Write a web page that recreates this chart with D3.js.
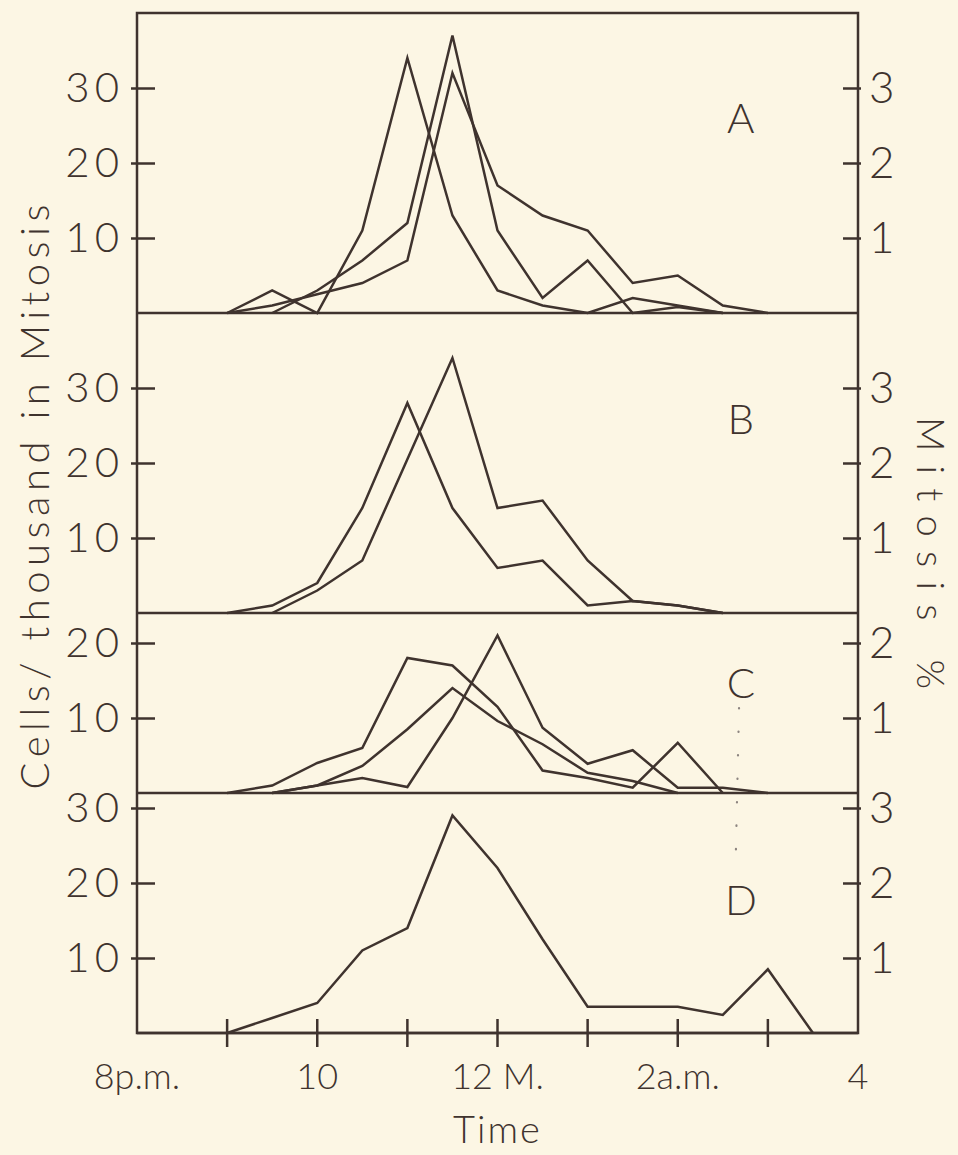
<!DOCTYPE html>
<html lang="en">
<head>
<meta charset="utf-8">
<title>Cells in mitosis by time</title>
<script src="https://cdnjs.cloudflare.com/ajax/libs/d3/7.8.5/d3.min.js"></script>
<style>
  body { margin: 0; background: #fcf6e4; }
  svg text { font-family: Lato, "DejaVu Sans", sans-serif; font-weight: 300; fill: #3f332e; }
</style>
</head>
<body>
<script>
// hours after 8 p.m., one sample every half hour from 9 p.m.
var hours = [1, 1.5, 2, 2.5, 3, 3.5, 4, 4.5, 5, 5.5, 6, 6.5, 7, 7.5];

// cells per thousand in mitosis
var seriesA1 = [0, 3, 0, 11, 34, 13, 3, 1, 0, 2, 1, 0, null, null];
var seriesA2 = [null, 0, 3, 7, 12, 37, 11, 2, 7, 0, 0.8, 0, null, null];
var seriesA3 = [0, 1, 2.5, 4, 7, 32, 17, 13, 11, 4, 5, 1, 0, null];
var seriesB1 = [0, 1, 4, 14, 28, 14, 6, 7, 1, 1.6, 1, 0, null, null];
var seriesB2 = [null, 0, 3, 7, 20.5, 34, 14, 15, 7, 1.6, 1, 0, null, null];
var seriesC1 = [0, 1, 4, 6, 18, 17, 11.5, 3, 2, 0.7, 6.7, 0, null, null];
var seriesC2 = [null, 0, 1, 3.6, 8.5, 14, 9.6, 6.5, 2.7, 1.6, 0, null, null, null];
var seriesC3 = [null, 0, 1, 2, 0.8, 10, 21, 8.7, 3.9, 5.7, 0.7, 0.7, 0, null];
var seriesD1 = [0, 2, 4, 11, 14, 29, 22, 12.5, 3.5, 3.5, 3.5, 2.4, 8.5, 0];

var panelNames = ["A", "B", "C", "D"];
var panelMax = [40, 40, 24, 32];
var panelSeries = [[seriesA1, seriesA2, seriesA3], [seriesB1, seriesB2], [seriesC1, seriesC2, seriesC3], [seriesD1]];
var leftTicks = [[10, 20, 30], [10, 20, 30], [10, 20], [10, 20, 30]];

var timeTicks = [1, 2, 3, 4, 5, 6, 7];
var timeLabelHours = [0, 2, 4, 6, 8];
var timeLabels = ["8p.m.", "10", "12 M.", "2a.m.", "4"];

var W = 958, H = 1155;
var ink = "#3f332e";
var top0 = 13, unit = 7.5;   // px per cell/thousand, same in every panel

var svg = d3.select("body").append("svg")
    .attr("width", W).attr("height", H);

svg.append("rect").attr("width", W).attr("height", H).attr("fill", "#fcf6e4");

var x = d3.scaleLinear().domain([0, 8]).range([137, 858]);

var line = d3.line()
    .defined(function(d) { return d[1] != null; })
    .x(function(d) { return x(d[0]); });

var yTop = top0;
var bottom = 0;

panelNames.forEach(function(name, p) {
    var h = panelMax[p] * unit;
    var y = d3.scaleLinear().domain([0, panelMax[p]]).range([yTop + h, yTop]);
    var yPct = d3.scaleLinear().domain([0, panelMax[p] / 10]).range([yTop + h, yTop]);
    var g = svg.append("g");

    // left ticks cross the frame
    var la = d3.axisLeft(y).tickValues(leftTicks[p]).tickSize(0).tickPadding(13)
        .tickFormat(d3.format("d"));
    var lg = g.append("g").attr("transform", "translate(" + x(0) + ",0)").call(la);
    lg.select(".domain").remove();
    lg.selectAll(".tick line").remove();
    lg.selectAll(".tick text").attr("font-size", 42).attr("fill", ink)
        .attr("letter-spacing", 5)
        .style("font-family", "Lato, 'DejaVu Sans', sans-serif").style("font-weight", 300);
    lg.selectAll(".tick").append("line")
        .attr("x1", -6).attr("x2", 18).attr("stroke", ink).attr("stroke-width", 2.5);

    var ra = d3.axisRight(yPct).tickValues(leftTicks[p].map(function(v) { return v / 10; }))
        .tickSize(0).tickPadding(11).tickFormat(d3.format("d"));
    var rg = g.append("g").attr("transform", "translate(" + x(8) + ",0)").call(ra);
    rg.select(".domain").remove();
    rg.selectAll(".tick line").remove();
    rg.selectAll(".tick text").attr("font-size", 44).attr("fill", ink)
        .style("font-family", "Lato, 'DejaVu Sans', sans-serif").style("font-weight", 300);
    rg.selectAll(".tick").append("line")
        .attr("x1", -15).attr("x2", 3).attr("stroke", ink).attr("stroke-width", 2.5);

    // panel baseline
    g.append("line")
        .attr("x1", x(0)).attr("x2", x(8))
        .attr("y1", y(0)).attr("y2", y(0))
        .attr("stroke", ink).attr("stroke-width", 2.5);

    panelSeries[p].forEach(function(s) {
        g.append("path")
            .datum(hours.map(function(t, i) { return [t, s[i]]; }))
            .attr("d", line.y(function(d) { return y(d[1]); }))
            .attr("fill", "none")
            .attr("stroke", ink)
            .attr("stroke-width", 2.5)
            .attr("stroke-linejoin", "miter");
    });

    g.append("text")
        .attr("x", x(6.7)).attr("y", yTop + [120, 121, 85, 122][p])
        .attr("text-anchor", "middle")
        .attr("font-size", 42)
        .text(name);

    yTop += h;
    bottom = y(0);
});

// frame
svg.append("rect")
    .attr("x", x(0)).attr("y", top0)
    .attr("width", x(8) - x(0)).attr("height", bottom - top0)
    .attr("fill", "none").attr("stroke", ink).attr("stroke-width", 2.5);

// faint dotted guide between C and D labels
svg.append("line")
    .attr("x1", x(6.68)).attr("x2", x(6.64))
    .attr("y1", 708).attr("y2", 872)
    .attr("stroke", "#8d8580").attr("stroke-width", 2.2)
    .attr("stroke-linecap", "round")
    .attr("stroke-dasharray", "0.5,23");

// time axis ticks (cross the bottom edge)
svg.append("g").selectAll("line")
    .data(timeTicks).enter().append("line")
    .attr("x1", function(d) { return x(d); }).attr("x2", function(d) { return x(d); })
    .attr("y1", bottom - 14).attr("y2", bottom + 14)
    .attr("stroke", ink).attr("stroke-width", 2.5);

svg.append("g").selectAll("text")
    .data(timeLabelHours).enter().append("text")
    .attr("x", function(d) { return x(d); })
    .attr("y", 1089)
    .attr("text-anchor", "middle")
    .attr("font-size", 36)
    .text(function(d, i) { return timeLabels[i]; });

svg.append("text")
    .attr("x", x(4)).attr("y", 1143)
    .attr("text-anchor", "middle")
    .attr("font-size", 38)
    .attr("letter-spacing", 2)
    .text("Time");

// axis titles
svg.append("text")
    .attr("transform", "translate(49,497) rotate(-90)")
    .attr("text-anchor", "middle")
    .attr("font-size", 40)
    .attr("textLength", 585).attr("lengthAdjust", "spacing")
    .text("Cells/ thousand  in  Mitosis");

svg.append("text")
    .attr("transform", "translate(917,553) rotate(90)")
    .attr("text-anchor", "middle")
    .attr("font-size", 38)
    .attr("textLength", 272).attr("lengthAdjust", "spacing")
    .text("Mitosis  %");
</script>
</body>
</html>
